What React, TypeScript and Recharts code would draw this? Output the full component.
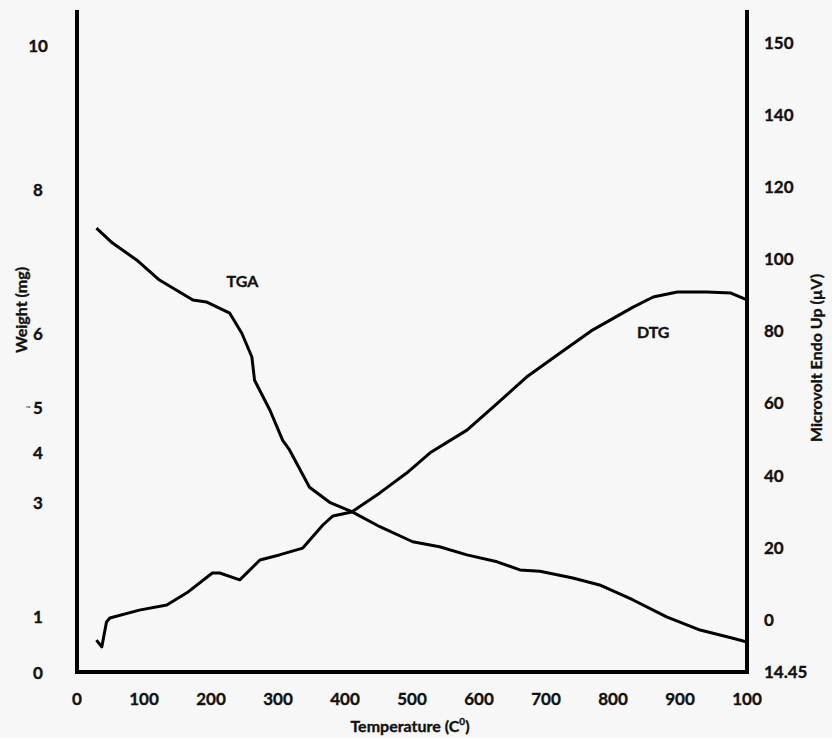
import React from 'react';
import { LineChart, Line, XAxis, YAxis, ReferenceDot, Label } from 'recharts';

// TGA trace: temperature (°C) vs weight (mg)
const tgaTemp = [29, 53, 89, 123, 173, 193, 228, 246, 261, 265, 288, 307, 317, 347, 377, 410, 452, 501, 541, 582, 627, 661, 691, 740, 780, 830, 880, 930, 979, 1000];
const tgaWeight = [7.09, 6.85, 6.58, 6.26, 5.94, 5.91, 5.73, 5.41, 5.03, 4.66, 4.18, 3.7, 3.55, 2.95, 2.71, 2.56, 2.32, 2.08, 2.0, 1.87, 1.76, 1.63, 1.61, 1.5, 1.39, 1.15, 0.88, 0.67, 0.54, 0.48];

// DTG trace: temperature (°C) vs microvolt
const dtgTemp = [29, 37, 44, 49, 93, 134, 164, 202, 213, 243, 273, 302, 337, 367, 382, 410, 452, 492, 527, 582, 621, 671, 721, 770, 830, 860, 896, 940, 976, 1000];
const dtgMicrovolt = [-5.6, -7.5, -0.6, 0.5, 2.7, 4.1, 7.5, 13.0, 13.0, 11.1, 16.6, 18.0, 19.9, 26.3, 28.8, 29.9, 35.2, 40.7, 46.3, 52.6, 59.0, 67.3, 74.0, 80.4, 86.7, 89.5, 90.9, 90.9, 90.6, 88.7];

const tempTicks = [0, 100, 200, 300, 400, 500, 600, 700, 800, 900, 1000];
const tempTickText = ['0', '100', '200', '300', '400', '500', '600', '700', '800', '900', '100'];

const weightTickAt = [0, 0.89, 2.71, 3.5, 4.22, 5.41, 7.7, 10];
const weightTickText = ['0', '1', '3', '4', '5', '6', '8', '10'];

const uvTicks = [-14.45, 0, 20, 40, 60, 80, 100, 120, 140, 160];
const uvTickText = ['14.45', '0', '20', '40', '60', '80', '100', '120', '140', '150'];

const tgaData = tgaTemp.map((t, i) => ({ temp: t, weight: tgaWeight[i] }));
const dtgData = dtgTemp.map((t, i) => ({ temp: t, uv: dtgMicrovolt[i] }));

const FONT = 'Lato, "Open Sans", sans-serif';
const tickStyle = { fontFamily: FONT, fontWeight: 700, fontSize: 17, fill: '#111', stroke: '#111', strokeWidth: 0.35 };
const titleStyle = { ...tickStyle, fontSize: 16 };
const frame = { stroke: '#000', strokeWidth: 4, strokeLinecap: 'square' as const };

function WeightTick(props: any) {
  const { x, y, payload } = props;
  const idx = weightTickAt.indexOf(payload.value);
  const text = weightTickText[idx];
  return (
    <g>
      {text === '5' && (
        <text x={x - 10} y={y + 2} textAnchor="middle" fontSize={9} fontFamily={FONT} fill="#333">~</text>
      )}
      <text x={x} y={y} textAnchor="middle" dominantBaseline="central" {...tickStyle}>{text}</text>
    </g>
  );
}

export default function App() {
  return (
    <div style={{ position: 'absolute', left: 0, top: 0, width: 832, height: 738, background: '#f7f7f7' }}>
      <LineChart width={832} height={738} margin={{ top: 12, right: 0, bottom: 0, left: 0 }}>
        <XAxis
          dataKey="temp"
          type="number"
          domain={[0, 1000]}
          allowDataOverflow
          ticks={tempTicks}
          interval={0}
          tickFormatter={(_v: number, i: number) => tempTickText[i]}
          tick={tickStyle}
          tickLine={false}
          tickSize={0}
          tickMargin={21}
          height={66}
          axisLine={frame}
        >
          <Label
            content={() => (
              <text x={410} y={732} textAnchor="middle" {...titleStyle}>
                Temperature (C<tspan dy={-7} fontSize={10}>0</tspan><tspan dy={7}>)</tspan>
              </text>
            )}
          />
        </XAxis>
        <XAxis
          xAxisId="top"
          orientation="top"
          type="number"
          domain={[0, 1000]}
          height={0}
          tick={false}
          tickLine={false}
          axisLine={{ stroke: '#000', strokeWidth: 3, strokeLinecap: 'square' }}
        />
        <YAxis
          yAxisId="w"
          type="number"
          domain={[0, 10.54]}
          allowDataOverflow
          ticks={weightTickAt}
          interval={0}
          tick={WeightTick}
          tickLine={false}
          tickSize={0}
          tickMargin={39}
          width={77}
          axisLine={frame}
        >
          <Label
            content={() => (
              <text x={20} y={310} textAnchor="middle" dominantBaseline="central" transform="rotate(-90, 20, 310)" {...titleStyle}>
                Weight (mg)
              </text>
            )}
          />
        </YAxis>
        <YAxis
          yAxisId="uv"
          orientation="right"
          type="number"
          domain={[-14.45, 168.5]}
          allowDataOverflow
          ticks={uvTicks}
          interval={0}
          tickFormatter={(_v: number, i: number) => uvTickText[i]}
          tick={tickStyle}
          tickLine={false}
          tickSize={0}
          tickMargin={17}
          width={85}
          axisLine={frame}
        >
          <Label
            content={() => (
              <text x={815} y={358} textAnchor="middle" dominantBaseline="central" transform="rotate(-90, 815, 358)" {...titleStyle}>
                Microvolt Endo Up (µV)
              </text>
            )}
          />
        </YAxis>
        <Line
          data={tgaData}
          dataKey="weight"
          yAxisId="w"
          type="linear"
          stroke="#000"
          strokeWidth={3}
          strokeLinejoin="round"
          dot={false}
          isAnimationActive={false}
        />
        <Line
          data={dtgData}
          dataKey="uv"
          yAxisId="uv"
          type="linear"
          stroke="#000"
          strokeWidth={3}
          strokeLinejoin="round"
          dot={false}
          isAnimationActive={false}
        />
        <ReferenceDot x={247} y={6.24} yAxisId="w" r={0} fill="none" stroke="none"
          label={{ value: 'TGA', position: 'center', style: titleStyle }} />
        <ReferenceDot x={860} y={79.8} yAxisId="uv" r={0} fill="none" stroke="none"
          label={{ value: 'DTG', position: 'center', style: titleStyle }} />
      </LineChart>
    </div>
  );
}
